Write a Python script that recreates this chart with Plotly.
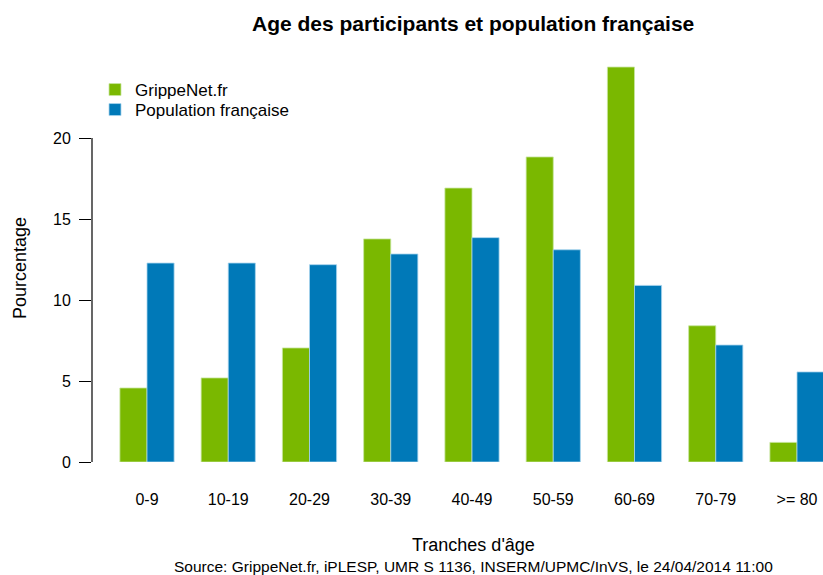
import plotly.graph_objects as go

categories = ["0-9", "10-19", "20-29", "30-39", "40-49", "50-59", "60-69", "70-79", ">= 80"]
grippenet = [4.57, 5.19, 7.04, 13.77, 16.91, 18.83, 24.38, 8.41, 1.21]
population = [12.28, 12.28, 12.18, 12.84, 13.85, 13.10, 10.90, 7.22, 5.56]
y_ticks = [0, 5, 10, 15, 20]

GREEN = "#7AB800"
BLUE = "#0079B8"
FONT = "Liberation Sans, Arial, sans-serif"

W, H = 823, 575
L, R, T, B = 92, 0, 55, 113
pw, ph = W - L - R, H - T - B
px_per_unit = 16.2
group_px = 81.25
first_center_px = 147

x0 = (L - first_center_px) / group_px
x1 = x0 + pw / group_px
ytop = ph / px_per_unit

def px_to_paper_x(px):
    return (px - L) / pw

def px_to_paper_y(py):
    return (H - B - py) / ph

fig = go.Figure()
fig.add_trace(go.Bar(
    x=list(range(len(categories))), y=grippenet, name="GrippeNet.fr",
    marker=dict(color=GREEN, line=dict(color="#C8E6A0", width=0.8)),
    legend="legend",
))
fig.add_trace(go.Bar(
    x=list(range(len(categories))), y=population, name="Population française",
    marker=dict(color=BLUE, line=dict(color="#A8D4EE", width=0.8)),
    legend="legend2",
))

legend_common = dict(
    xanchor="left", yanchor="middle",
    font=dict(family=FONT, size=17, color="black"),
    bgcolor="rgba(0,0,0,0)", borderwidth=0,
)

fig.update_layout(
    width=W, height=H,
    margin=dict(l=L, r=R, t=T, b=B, pad=0),
    paper_bgcolor="white", plot_bgcolor="white",
    barmode="group", bargap=0.333, bargroupgap=0,
    font=dict(family=FONT, color="black", size=16),
    showlegend=True,
    legend=dict(x=px_to_paper_x(95), y=px_to_paper_y(90), **legend_common),
    legend2=dict(x=px_to_paper_x(95), y=px_to_paper_y(110), **legend_common),
    xaxis=dict(
        type="linear", range=[x0, x1],
        tickmode="array", tickvals=list(range(len(categories))), ticktext=categories,
        showline=False, showgrid=False, zeroline=False, ticks="",
        tickfont=dict(family=FONT, size=16, color="black"),
        ticklabelstandoff=26,
    ),
    yaxis=dict(
        range=[0, ytop], tickmode="array", tickvals=y_ticks,
        ticktext=[str(v) for v in y_ticks],
        showline=False, showgrid=False, zeroline=False,
        ticks="outside", ticklen=12, tickwidth=1, tickcolor="black",
        tickfont=dict(family=FONT, size=16, color="black"),
        ticklabelstandoff=5,
    ),
    annotations=[
        dict(text="<b>Age des participants et population française</b>",
             xref="paper", yref="paper", x=px_to_paper_x(473), y=px_to_paper_y(23),
             xanchor="center", yanchor="middle", showarrow=False,
             font=dict(family=FONT, size=21, color="black")),
        dict(text="Pourcentage", textangle=-90,
             xref="paper", yref="paper", x=px_to_paper_x(20), y=px_to_paper_y(268),
             xanchor="center", yanchor="middle", showarrow=False,
             font=dict(family=FONT, size=18, color="black")),
        dict(text="Tranches d'âge",
             xref="paper", yref="paper", x=px_to_paper_x(473), y=px_to_paper_y(545),
             xanchor="center", yanchor="middle", showarrow=False,
             font=dict(family=FONT, size=18, color="black")),
        dict(text="Source: GrippeNet.fr, iPLESP, UMR S 1136, INSERM/UPMC/InVS, le 24/04/2014 11:00",
             xref="paper", yref="paper", x=px_to_paper_x(473), y=px_to_paper_y(566),
             xanchor="center", yanchor="middle", showarrow=False,
             font=dict(family=FONT, size=15.5, color="black")),
    ],
    shapes=[
        dict(type="line", xref="paper", yref="y", x0=0, x1=0, y0=0, y1=20,
             line=dict(color="black", width=1.2)),
    ],
)

fig.write_html(
    "out.html",
    config={"displayModeBar": False},
    post_script="document.body.style.margin='0px';document.body.style.overflow='hidden';",
)
